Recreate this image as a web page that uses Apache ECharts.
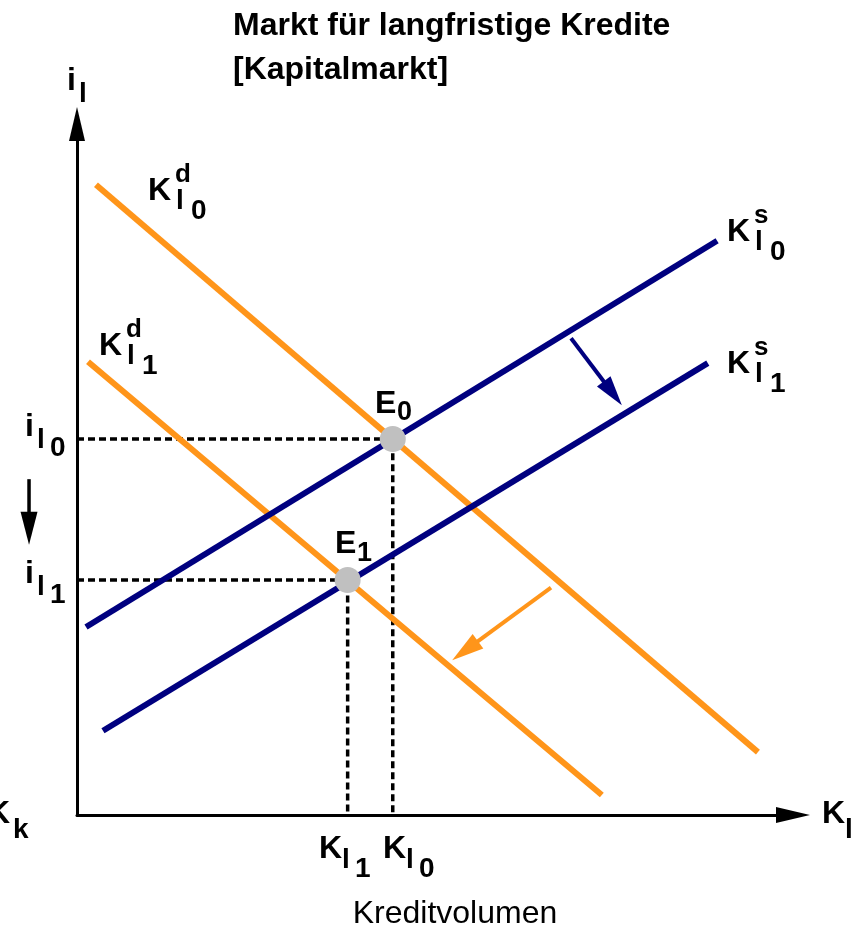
<!DOCTYPE html>
<html>
<head>
<meta charset="utf-8">
<script src="https://cdn.jsdelivr.net/npm/echarts@6/dist/echarts.min.js"></script>
<style>html,body{margin:0;padding:0;background:#fff}#c{width:863px;height:933px}</style>
</head>
<body>
<div id="c"></div>
<script>
// ---- data (abstract axis units 0..100) ----
const demand0 = [[2.65, 91.2], [95.1, 9.1]];   // K^d_l0
const demand1 = [[1.54, 65.6], [73.3, 2.9]];   // K^d_l1
const supply0 = [[1.26, 27.2], [89.4, 83.1]];  // K^s_l0
const supply1 = [[3.63, 12.2], [88.1, 65.4]];  // K^s_l1
const equilibria = [[44.1, 54.4], [37.8, 34.0]]; // E0, E1
// shift arrows: [x1, y1, x2 (tip), y2 (tip)]
const supplyShiftArrow = [69.0, 69.0, 76.1, 59.3];
const demandShiftArrow = [66.2, 32.9, 52.4, 22.4];
const rateDropArrow = [-6.7, 48.6, -6.7, 39.1];

const ORANGE = '#FF951A';
const NAVY = '#00007F';
const F = '"Liberation Sans", Arial, sans-serif';

function txt(x, baseline, s, size, bold, align) {
  return {
    type: 'text', z: 100,
    style: {
      text: s, x: x, y: baseline - 0.35 * size,
      font: (bold === false ? '' : 'bold ') + size + 'px ' + F,
      fill: '#000', textAlign: align || 'left', textVerticalAlign: 'middle'
    }
  };
}
function kLabel(x, b, sup, digit) {
  return [
    txt(x, b, 'K', 32),
    txt(x + 27, b - 18, sup, 26),
    txt(x + 28, b + 9, 'l', 28),
    txt(x + 43, b + 19, digit, 28)
  ];
}
function iLabel(x, b, digit) {
  const a = [txt(x, b, 'i', 32), txt(x + 12, b + 12, 'l', 28)];
  if (digit !== null) a.push(txt(x + 25, b + 20, digit, 28));
  return a;
}
function kxLabel(x, b, digit) {
  return [txt(x, b, 'K', 32), txt(x + 23, b + 10, 'l', 28), txt(x + 36, b + 19, digit, 28)];
}

const dashed = equilibria.map(p => [[0, p[1]], [p[0], p[1]], [p[0], 0]]);

const chart = echarts.init(document.getElementById('c'), null, {renderer: 'canvas'});
const axisCommon = {
  type: 'value', min: 0, max: 100,
  axisLine: {show: true, lineStyle: {color: '#000', width: 3}, symbol: ['none', 'triangle'], symbolSize: [16, 34]},
  axisTick: {show: false}, axisLabel: {show: false}, splitLine: {show: false}
};
const lineSeries = (d, color) => ({
  type: 'line', data: d, showSymbol: false, symbol: 'none', silent: true,
  lineStyle: {color: color, width: 6}, z: 3
});
function arrowSeries(d, color, w, headLen, headW) {
  return {
    type: 'custom', coordinateSystem: 'cartesian2d', clip: false, silent: true, z: 4,
    data: [d],
    renderItem: function (params, api) {
      const p1 = api.coord([api.value(0), api.value(1)]);
      const p2 = api.coord([api.value(2), api.value(3)]);
      const dx = p2[0] - p1[0], dy = p2[1] - p1[1];
      const L = Math.sqrt(dx * dx + dy * dy);
      const ux = dx / L, uy = dy / L;
      const bx = p2[0] - ux * headLen, by = p2[1] - uy * headLen;
      const nx = -uy * headW / 2, ny = ux * headW / 2;
      return {
        type: 'group',
        children: [
          {type: 'line', shape: {x1: p1[0], y1: p1[1], x2: bx + ux * 2, y2: by + uy * 2},
           style: {stroke: color, lineWidth: w}},
          {type: 'polygon', shape: {points: [[p2[0], p2[1]], [bx + nx, by + ny], [bx - nx, by - ny]]},
           style: {fill: color}}
        ]
      };
    }
  };
}

const graphics = [].concat(
  [txt(233, 37, 'Markt für langfristige Kredite', 32),
   txt(233, 81, '[Kapitalmarkt]', 32)],
  iLabel(67, 92, null),
  iLabel(25, 438, '0'),
  iLabel(25, 585, '1'),
  kLabel(148, 202, 'd', '0'),
  kLabel(99, 357, 'd', '1'),
  kLabel(727, 243, 's', '0'),
  kLabel(727, 375, 's', '1'),
  kxLabel(319, 860, '1'),
  kxLabel(383, 860, '0'),
  [txt(822, 825, 'K', 32), txt(845, 840, 'l', 28)],
  [txt(-13, 825, 'K', 32), txt(13, 840, 'k', 28)],
  [txt(375, 415, 'E', 32), txt(397, 422, '0', 27),
   txt(335, 555, 'E', 32), txt(357, 563, '1', 27)],
  [txt(455, 925, 'Kreditvolumen', 32, false, 'center')]
);

chart.setOption({
  animation: false,
  backgroundColor: '#fff',
  grid: {left: 77, right: 70, top: 124, bottom: 118, containLabel: false},
  xAxis: axisCommon,
  yAxis: axisCommon,
  series: [
    {type: 'line', data: dashed[0], showSymbol: false, symbol: 'none', silent: true,
     lineStyle: {color: '#000', width: 3.5, type: [7, 4]}, z: 2},
    {type: 'line', data: dashed[1], showSymbol: false, symbol: 'none', silent: true,
     lineStyle: {color: '#000', width: 3.5, type: [7, 4]}, z: 2},
    lineSeries(demand0, ORANGE),
    lineSeries(demand1, ORANGE),
    lineSeries(supply0, NAVY),
    lineSeries(supply1, NAVY),
    arrowSeries(supplyShiftArrow, NAVY, 4, 30, 17),
    arrowSeries(demandShiftArrow, ORANGE, 4, 32, 18),
    arrowSeries(rateDropArrow, '#000', 3.5, 33, 17),
    {type: 'scatter', data: equilibria, symbol: 'circle', symbolSize: 26, silent: true,
     itemStyle: {color: '#C0C0C0', opacity: 1}, z: 10}
  ],
  graphic: graphics
});
</script>
</body>
</html>
